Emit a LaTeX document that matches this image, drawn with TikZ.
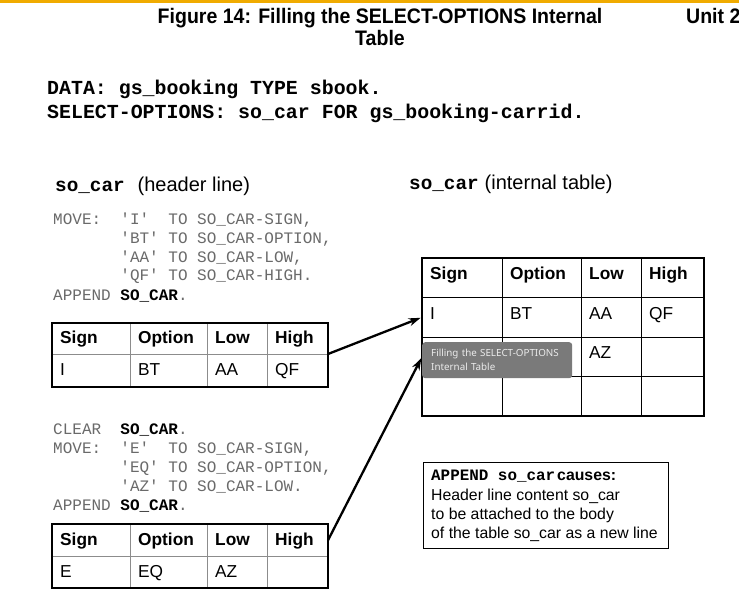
\documentclass[tikz,border=0pt]{standalone}
\usepackage{fontspec}
\setmainfont{Liberation Sans}
\setmonofont{Liberation Mono}
\newfontfamily\tipfont{Noto Sans}
\usetikzlibrary{arrows.meta,positioning}

\definecolor{sapgold}{HTML}{F0AB00}
\definecolor{codegray}{HTML}{6A6A6A}
\definecolor{tipgray}{HTML}{7A7A7A}
\definecolor{gridgray}{HTML}{8C8C8C}

\tikzset{
  cell/.style={rectangle, draw=#1, line width=1pt, anchor=north west, inner sep=0pt, outer sep=0pt},
  celltext/.style={anchor=west, inner sep=0pt, text height=12.4pt, text depth=0pt, font=\fontsize{17.3}{20}\selectfont},
  frame/.style={draw=black, line width=2pt},
  code/.style={anchor=base west, inner sep=0pt, text=codegray, font=\ttfamily\fontsize{16}{19}\selectfont},
  plain/.style={anchor=base west, inner sep=0pt},
  link/.style={-{Stealth[length=12pt,width=8pt]}, line width=2.3pt, shorten >=1.5pt},
  notebox/.style={rectangle, draw=black, line width=1.2pt, anchor=north west, inner sep=0pt},
  tipbox/.style={rectangle, fill=tipgray, rounded corners=3pt, anchor=north west, inner xsep=9pt,
    text width=132pt, minimum height=36pt, align=left, text=white!92!black,
    font=\tipfont\fontsize{9.8}{14}\selectfont}
}

% one table row: name, top y, height, grid colour, text shift, x/width/text list
\newcommand{\tblrow}[6]{%
  \foreach \cx/\cw/\ct [count=\ci] in {#6}{%
    \node[cell=#4, minimum width=\cw, minimum height=#3] (#1\ci) at (\cx,#2) {};
    \node[celltext] (#1t\ci) at ([xshift=8pt,yshift=#5]#1\ci.west) {\ct};
  }}

\begin{document}
\begin{tikzpicture}[x=1pt, y=-1pt]
  \fill[white] (0,0) rectangle (739,602);
  \useasboundingbox (0,0) rectangle (739,602);

  % page header
  \fill[sapgold] (0,0) rectangle (739,3);
  \node[anchor=base, inner sep=0pt, font=\bfseries\fontsize{21}{23}\selectfont] (title) at (380,24)
    {\scalebox{0.93}[1]{Figure 14: Filling the SELECT-OPTIONS Internal}};
  \node[anchor=base, inner sep=0pt, font=\bfseries\fontsize{21}{23}\selectfont] (titleB) at (380,46)
    {\scalebox{0.93}[1]{Table}};
  \node[plain, font=\bfseries\fontsize{21}{23}\selectfont] (unit) at (686,24) {\scalebox{0.93}[1]{Unit 2}};

  % declarations
  \foreach \y/\txt [count=\k] in {94.5/{DATA: gs\_booking TYPE sbook.},
                                118.5/{SELECT-OPTIONS: so\_car FOR gs\_booking-carrid.}}{
    \node[plain, text=black, font=\ttfamily\bfseries\fontsize{19.9}{22}\selectfont] (decl\k) at (47,\y) {\txt};
  }

  % header line side
  \node[plain, font=\fontsize{20}{22}\selectfont] (hdrHead) at (55,191)
    {{\ttfamily\bfseries\fontsize{19.3}{22}\selectfont so\_car}\hspace{13pt}(header line)};
  \foreach \y/\txt [count=\k] in {224.5/{MOVE:~~'I'~~TO SO\_CAR-SIGN,},
                                243.5/{~~~~~~~'BT' TO SO\_CAR-OPTION,},
                                262/{~~~~~~~'AA' TO SO\_CAR-LOW,},
                                280.5/{~~~~~~~'QF' TO SO\_CAR-HIGH.},
                                300/{APPEND \textcolor{black}{\textbf{SO\_CAR}}.}}{
    \node[code] (codeA\k) at (53,\y) {\txt};
  }
  \tblrow{hA}{323}{31}{gridgray}{1pt}{52/78/\textbf{Sign}, 130/77/\textbf{Option}, 207/60/\textbf{Low}, 267/61/\textbf{High}}
  \tblrow{dA}{354}{33}{gridgray}{1pt}{52/78/I, 130/77/BT, 207/60/AA, 267/61/QF}
  \draw[frame] (hA1.north west) rectangle (dA4.south east);

  \foreach \y/\txt [count=\k] in {434.5/{CLEAR~~\textcolor{black}{\textbf{SO\_CAR}}.},
                                453/{MOVE:~~'E'~~TO SO\_CAR-SIGN,},
                                472/{~~~~~~~'EQ' TO SO\_CAR-OPTION,},
                                491/{~~~~~~~'AZ' TO SO\_CAR-LOW.},
                                510/{APPEND \textcolor{black}{\textbf{SO\_CAR}}.}}{
    \node[code] (codeB\k) at (53,\y) {\txt};
  }
  \tblrow{hB}{524}{32.5}{gridgray}{1pt}{52/78/\textbf{Sign}, 130/77/\textbf{Option}, 207/60/\textbf{Low}, 267/61/\textbf{High}}
  \tblrow{dB}{556.5}{31.5}{gridgray}{1pt}{52/78/E, 130/77/EQ, 207/60/AZ, 267/61/}
  \draw[frame] (hB1.north west) rectangle (dB4.south east);

  % internal table side
  \node[plain, font=\fontsize{20}{22}\selectfont] (itabHead) at (409,189.5)
    {{\ttfamily\bfseries\fontsize{19.3}{22}\selectfont so\_car}\hspace{6pt}(internal table)};
  \tblrow{rH}{258}{39.5}{black}{4pt}{422/80/\textbf{Sign}, 502/79/\textbf{Option}, 581/60/\textbf{Low}, 641/63/\textbf{High}}
  \tblrow{rA}{297.5}{39.5}{black}{4pt}{422/80/I, 502/79/BT, 581/60/AA, 641/63/QF}
  \tblrow{rB}{337}{39.5}{black}{4pt}{422/80/, 502/79/, 581/60/AZ, 641/63/}
  \tblrow{rC}{376.5}{39.5}{black}{4pt}{422/80/, 502/79/, 581/60/, 641/63/}
  \draw[frame] (rH1.north west) rectangle (rC4.south east);

  % tooltip over the table
  \node[tipbox] (tooltip) at (422,342) {\mbox{Filling the SELECT-OPTIONS}\\Internal Table};

  % arrows
  \draw[link] (hA4.south east) -- (rA1.west);
  \draw[link] (hB4.east) -- (rB1.west);

  % note
  \node[notebox, minimum width=245pt, minimum height=86pt] (note) at (423,462) {};
  \node[plain, font=\bfseries\fontsize{15.8}{19}\selectfont] (noteA) at (431,480)
    {{\ttfamily\fontsize{15.9}{19}\selectfont APPEND so\_car}\hspace{2pt}causes:};
  \foreach \y/\txt [count=\k] in {500/{Header line content so\_car},
                                519.3/{to be attached to the body},
                                538.3/{of the table so\_car as a new line}}{
    \node[plain, font=\fontsize{15.8}{19}\selectfont] (noteL\k) at (431,\y) {\txt};
  }
\end{tikzpicture}
\end{document}
